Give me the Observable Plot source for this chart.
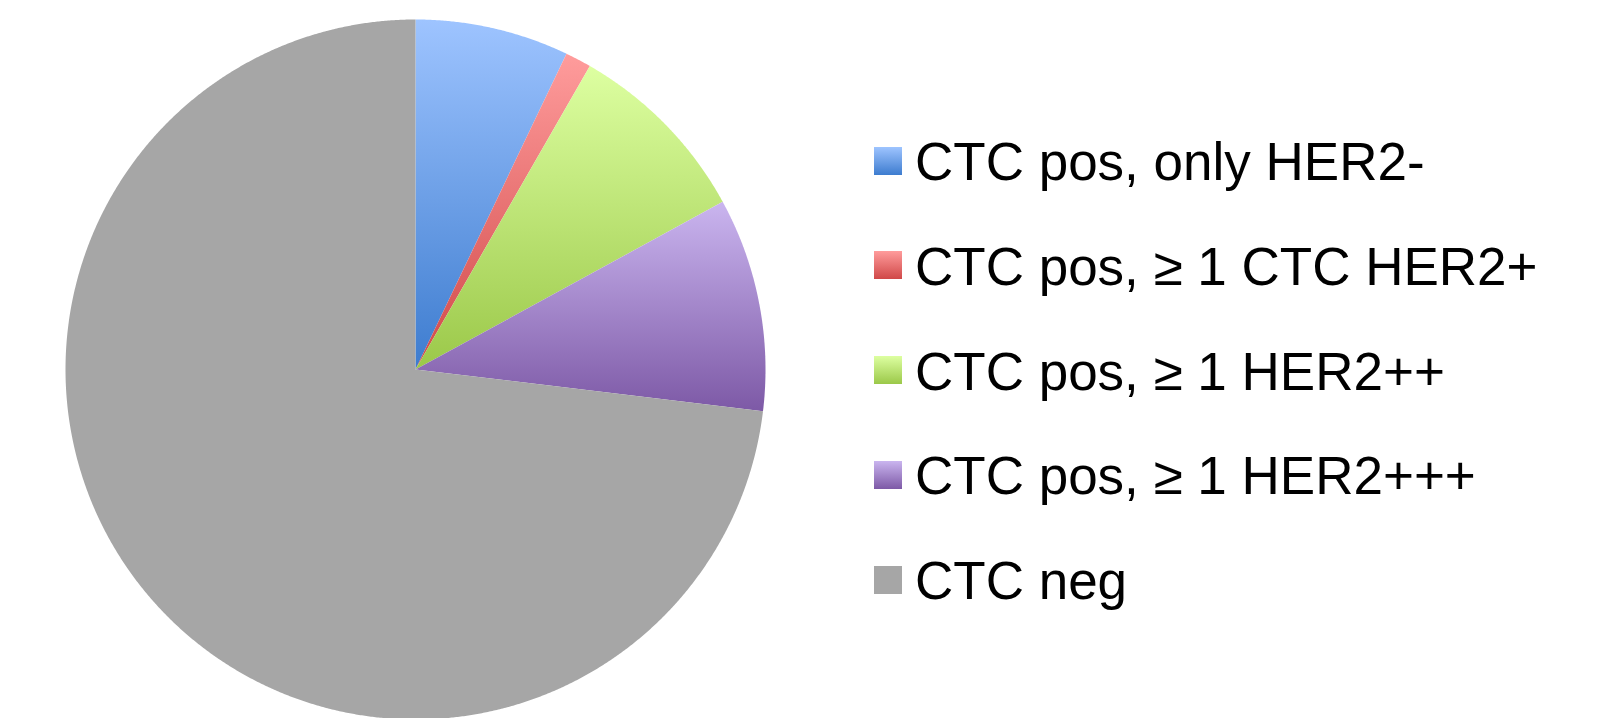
<!DOCTYPE html>
<html>
<head>
<meta charset="utf-8">
<script src="https://cdn.jsdelivr.net/npm/d3@7"></script>
<script src="https://cdn.jsdelivr.net/npm/@observablehq/plot@0.6"></script>
<style>
  html, body { margin: 0; padding: 0; background: #fff; }
  #wrap { position: relative; width: 1607px; height: 718px; overflow: hidden; }
  #legend { position: absolute; left: 874px; top: 0; font-family: "Liberation Sans", Arial, sans-serif; }
  .row { position: absolute; left: 0; display: flex; align-items: center; height: 60px; white-space: nowrap; }
  .sw { width: 28px; height: 28px; margin-right: 13px; flex: none; }
  .lbl { font-size: 53px; line-height: 1; color: #000; display: inline-block; position: relative; top: 1px; }
</style>
</head>
<body>
<div id="wrap"></div>
<script>
// ---- data ----
const categories = ["CTC pos, only HER2-", "CTC pos, \u2265 1 CTC HER2+", "CTC pos, \u2265 1 HER2++", "CTC pos, \u2265 1 HER2+++", "CTC neg"];
const values = [7.1, 1.2, 8.75, 9.85, 73.1];
const gradTop = ["#9ec4ff", "#ff9c9c", "#ddffa1", "#cab5ef", "#a6a6a6"];
const gradBottom = ["#3d7ccf", "#d04848", "#9bc849", "#7d59a6", "#a6a6a6"];

// ---- pie geometry (angles from 12 o'clock, clockwise) ----
const pie = d3.pie().value(d => d).sort(null)(values);
const slices = pie.map((p, i) => {
  const pts = [{x: 0, y: 0}];
  const n = Math.max(2, Math.ceil((p.endAngle - p.startAngle) / (Math.PI / 720)));
  for (let k = 0; k <= n; k++) {
    const a = p.startAngle + (p.endAngle - p.startAngle) * k / n;
    pts.push({x: Math.sin(a), y: Math.cos(a)});
  }
  pts.push({x: 0, y: 0});
  return pts;
});

const chart = Plot.plot({
  width: 1607,
  height: 718,
  margin: 0,
  x: {domain: [-1, 1], range: [65, 765], axis: null},
  y: {domain: [-1, 1], range: [719, 19], axis: null},
  marks: slices.map((pts, i) =>
    Plot.line(pts, {x: "x", y: "y", fill: `url(#grad${i})`, stroke: "none", curve: "linear"})
  )
});

// gradient definitions
const defs = d3.select(chart).insert("defs", ":first-child");
categories.forEach((c, i) => {
  const g = defs.append("linearGradient").attr("id", `grad${i}`)
    .attr("x1", 0).attr("y1", 0).attr("x2", 0).attr("y2", 1);
  g.append("stop").attr("offset", "0%").attr("stop-color", gradTop[i]);
  g.append("stop").attr("offset", "100%").attr("stop-color", gradBottom[i]);
});

const wrap = document.getElementById("wrap");
wrap.appendChild(chart);

// legend
const legend = d3.select(wrap).append("div").attr("id", "legend");
const rowCenters = categories.map((c, i) => 160.5 + i * 104.8);
categories.forEach((c, i) => {
  const row = legend.append("div").attr("class", "row").style("top", (rowCenters[i] - 30) + "px");
  row.append("div").attr("class", "sw")
    .style("background", `linear-gradient(to bottom, ${gradTop[i]}, ${gradBottom[i]})`);
  row.append("span").attr("class", "lbl").text(c);
});
</script>
</body>
</html>
